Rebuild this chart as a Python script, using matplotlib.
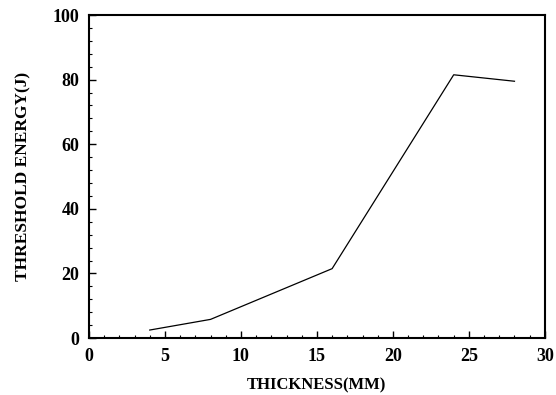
import matplotlib
matplotlib.use('Agg')
import matplotlib.pyplot as plt
from matplotlib.ticker import AutoMinorLocator

plt.rcParams['font.family'] = 'Liberation Serif'
plt.rcParams['font.weight'] = 'bold'

thickness = [4, 8, 16, 24, 28]
energy = [2.5, 5.8, 21.5, 81.5, 79.5]

fig = plt.figure(figsize=(5.56, 3.95), dpi=100)
ax = fig.add_axes([0.160, 0.144, 0.820, 0.818])

ax.plot(thickness, energy, color='black', linewidth=0.9)

ax.set_xlim(0, 30)
ax.set_ylim(0, 100)
ax.set_xticks([0, 5, 10, 15, 20, 25, 30])
ax.set_yticks([0, 20, 40, 60, 80, 100])
ax.xaxis.set_minor_locator(AutoMinorLocator(5))
ax.yaxis.set_minor_locator(AutoMinorLocator(5))
ax.tick_params(which='major', direction='in', length=5, width=1, labelsize=13, pad=7)
ax.tick_params(which='minor', direction='in', length=2.5, width=0.8)
for s in ax.spines.values():
    s.set_linewidth(1.5)

ax.set_xlabel('THICKNESS(MM)', fontsize=12, fontweight='bold', labelpad=9)
ax.set_ylabel('THRESHOLD ENERGY(J)', fontsize=12.5, fontweight='bold', labelpad=15)

fig.savefig('out.png', dpi=100)
